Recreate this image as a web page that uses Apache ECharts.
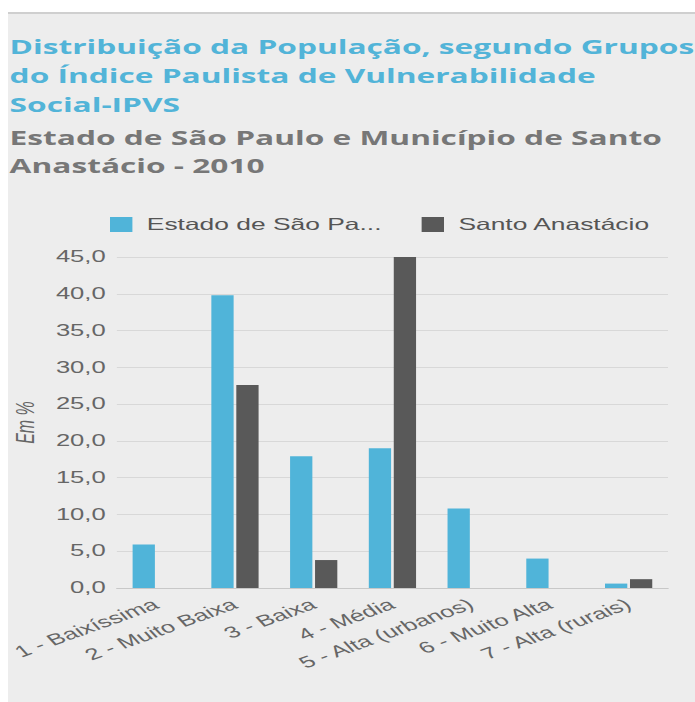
<!DOCTYPE html>
<html>
<head>
<meta charset="utf-8">
<script src="https://cdn.jsdelivr.net/npm/echarts@6/dist/echarts.min.js"></script>
<style>
    html, body { margin: 0; padding: 0; background: #ffffff; }
    #panel {
        position: absolute; left: 8px; top: 12px; width: 687px; height: 690px;
        background: #ededed; border-top: 2px solid #cfcfcf;
    }
    /* the reference is a horizontally stretched picture, so the chart is drawn narrower and stretched */
    #chart {
        position: absolute; left: 0; top: 0; width: 434.375px; height: 702px;
        transform: scaleX(1.6); transform-origin: 0 0;
    }
</style>
</head>
<body>
<div id="panel"></div>
<div id="chart"></div>
<script>
    // categorias (grupos do IPVS)
    const grupos = ['1 - Baixíssima', '2 - Muito Baixa', '3 - Baixa', '4 - Média',
        '5 - Alta (urbanos)', '6 - Muito Alta', '7 - Alta (rurais)']
    // valores em %
    const estadoSP = [5.9, 39.8, 17.9, 19.0, 10.8, 4.0, 0.6]
    const santoAnastacio = [0, 27.6, 3.8, 45.0, 0, 0, 1.2]
    const yTicks = { min: 0, max: 45, interval: 5 }

    const colors = ['#50b4d9', '#595959']
    const axisFont = '"Liberation Sans", Arial, sans-serif'

    var myChart = echarts.init(document.getElementById('chart'), null, { renderer: 'svg' })
    let option = {
        color: colors,
        title: [
            {
                text: 'Distribuição da População, segundo Grupos\ndo Índice Paulista de Vulnerabilidade\nSocial-IPVS',
                left: 6,
                top: 32,
                padding: 0,
                textStyle: {
                    fontFamily: '"Open Sans", sans-serif',
                    fontWeight: 'bold',
                    fontSize: 19.8,
                    lineHeight: 29,
                    color: '#52b4d8'
                }
            },
            {
                text: 'Estado de São Paulo e Município de Santo\nAnastácio - 2010',
                left: 6,
                top: 124,
                padding: 0,
                textStyle: {
                    fontFamily: '"Open Sans", sans-serif',
                    fontWeight: 'bold',
                    fontSize: 19.8,
                    lineHeight: 28,
                    color: '#777777'
                }
            }
        ],
        legend: {
            left: 68.75,
            top: 216,
            padding: 0,
            itemWidth: 14,
            itemHeight: 15,
            itemGap: 25,
            icon: 'rect',
            textStyle: {
                fontFamily: axisFont,
                fontSize: 16.5,
                color: '#555555',
                width: 150,
                overflow: 'truncate',
                padding: [0, 0, 0, 4]
            }
        },
        grid: {
            left: 67.5,
            width: 350,
            top: 257,
            bottom: 114,
            containLabel: false
        },
        xAxis: {
            type: 'category',
            data: grupos,
            axisTick: { show: false },
            axisLine: { lineStyle: { color: '#c8c8c8' } },
            axisLabel: {
                interval: 0,
                rotate: 30,
                margin: 15,
                fontFamily: axisFont,
                fontSize: 16,
                color: '#666666'
            }
        },
        yAxis: {
            type: 'value',
            min: yTicks.min,
            max: yTicks.max,
            interval: yTicks.interval,
            name: 'Em %',
            nameLocation: 'middle',
            nameGap: 46,
            nameTextStyle: {
                fontFamily: axisFont,
                fontStyle: 'italic',
                fontSize: 16,
                color: '#666666'
            },
            axisLabel: {
                margin: 7,
                fontFamily: axisFont,
                fontSize: 16,
                color: '#666666',
                formatter: v => v.toFixed(1).replace('.', ',')
            },
            splitLine: { lineStyle: { color: '#d8d8d8' } }
        },
        series: [
            {
                name: 'Estado de São Paulo',
                type: 'bar',
                barGap: '12%',
                barCategoryGap: '40%',
                data: estadoSP
            },
            {
                name: 'Santo Anastácio',
                type: 'bar',
                data: santoAnastacio
            }
        ]
    }
    myChart.setOption(option)
</script>
</body>
</html>
